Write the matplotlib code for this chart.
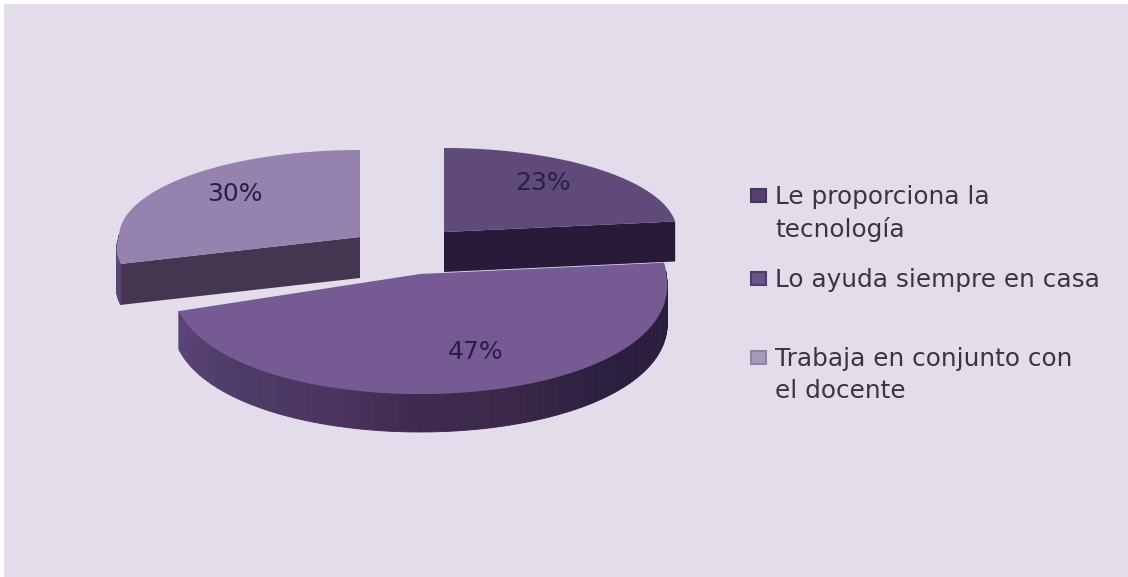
import numpy as np
import matplotlib
matplotlib.use("Agg")
import matplotlib.pyplot as plt
from matplotlib.colors import LinearSegmentedColormap
from matplotlib.patches import Polygon, Rectangle

# data
labels = ["Le proporciona la\ntecnología", "Lo ayuda siempre en casa", "Trabaja en conjunto con\nel docente"]
values = [23, 47, 30]
pct_labels = ["23%", "47%", "30%"]

# look of each slice, in pixels of the 1128x577 picture
centers = [(444, 232), (420, 274), (360, 237)]
radii_x = [233, 246, 241]
radii_back = [84, 90, 87]
radii_front = [84, 120, 87]
spread = [0, 0.1, 0.14]  # front of the pie looks wider
depths = [40, 38, 41]
top_colors = ["#5f4a7a", "#755a94", "#9582ae"]
face_colors = ["#2a1a3a", "#4a3560", "#443650"]
legend_colors = ["#55406f", "#6b5288", "#a79bb8"]
legend_edges = ["#463560", "#4f3c6e", "#8f83a3"]
label_pos = [(543, 183), (476, 352), (235, 194)]
legend_y = [198, 281, 360]

side_cmap = LinearSegmentedColormap.from_list(
    "side", ["#5c4478", "#4c3a66", "#4a3560", "#3e2a4e", "#3c2848", "#2c2040", "#2a1c3c"])

fig = plt.figure(figsize=(11.28, 5.77), dpi=100, facecolor="white")
ax = fig.add_axes([0, 0, 1, 1])
ax.set_xlim(0, 1128)
ax.set_ylim(577, 0)
ax.axis("off")
ax.add_patch(Rectangle((4, 4), 1124, 573, facecolor="#e3dcea", edgecolor="none", zorder=0))


def rim(i, a):
    # point on the top face of slice i, angle in radians
    cx, cy = centers[i]
    s = np.sin(a)
    ry = radii_back[i] if s > 0 else radii_front[i]
    wide = 1 + spread[i] * max(-s, 0)
    return cx + radii_x[i] * wide * np.cos(a), cy - ry * s


# angles going clockwise from 12 o'clock
edges = 90 - np.cumsum([0] + values) * 3.6

for i in [1, 0, 2]:
    a0, a1 = np.radians(edges[i]), np.radians(edges[i + 1])
    angles = np.linspace(a0, a1, 160)
    cx, cy = centers[i]
    depth = depths[i]
    arc = np.array([rim(i, a) for a in angles])
    z = 3 if i == 1 else 5

    # curved outer wall, only the part facing the viewer
    for a, b in zip(angles[:-1], angles[1:]):
        if np.sin(a) < 0.02 or np.sin(b) < 0.02:
            p, q = rim(i, a), rim(i, b)
            tone = 0.5 * (1 + np.cos((a + b) / 2))
            ax.add_patch(Polygon([p, q, (q[0], q[1] + depth), (p[0], p[1] + depth)],
                                 facecolor=side_cmap(tone), edgecolor=side_cmap(tone),
                                 linewidth=0.6, zorder=z))

    # flat cut faces that show towards the viewer
    if i == 0:
        end = rim(i, a1)
        ax.add_patch(Polygon([(cx, cy), end, (end[0], end[1] + depth), (cx, cy + depth)],
                             facecolor=face_colors[i], edgecolor="none", zorder=z + 1))
    if i == 2:
        start = rim(i, a0)
        ax.add_patch(Polygon([(cx, cy), start, (start[0], start[1] + depth), (cx, cy + depth)],
                             facecolor=face_colors[i], edgecolor="none", zorder=z + 1))

    ax.add_patch(Polygon(np.vstack([[cx, cy], arc]), facecolor=top_colors[i],
                         edgecolor="none", zorder=z + 2))
    ax.text(label_pos[i][0], label_pos[i][1], pct_labels[i], ha="center", va="center",
            fontsize=18, color="#2b1f45", family="DejaVu Sans", zorder=9)

# legend drawn by hand to keep the wide spacing of the original
for label, y, c, e in zip(labels, legend_y, legend_colors, legend_edges):
    ax.add_patch(Rectangle((751, y - 9), 15, 13, facecolor=c, edgecolor=e, linewidth=1.5, zorder=6))
    ax.text(775, y - 13, label, ha="left", va="top", fontsize=17.8, color="#3a3640",
            family="DejaVu Sans", linespacing=1.4, zorder=6)

fig.savefig("out.png", dpi=100)
